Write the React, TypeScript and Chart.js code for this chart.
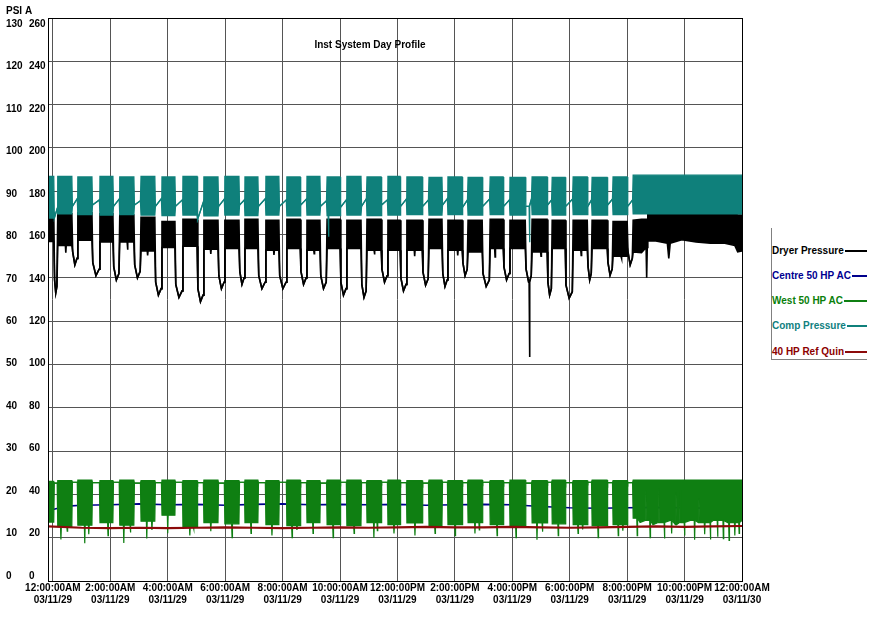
import { useEffect, useRef } from 'react';
import { Chart, registerables } from 'chart.js';

Chart.register(...registerables);

const FONT = '"Liberation Sans", Arial, Helvetica, sans-serif';

// ---- axis labels ----
const xTickHours = [0, 2, 4, 6, 8, 10, 12, 14, 16, 18, 20, 22, 24];
const xTimeLabels = ['12:00:00AM', '2:00:00AM', '4:00:00AM', '6:00:00AM', '8:00:00AM', '10:00:00AM', '12:00:00PM', '2:00:00PM', '4:00:00PM', '6:00:00PM', '8:00:00PM', '10:00:00PM', '12:00:00AM'];
const xDateLabels = ['03/11/29', '03/11/29', '03/11/29', '03/11/29', '03/11/29', '03/11/29', '03/11/29', '03/11/29', '03/11/29', '03/11/29', '03/11/29', '03/11/29', '03/11/30'];
const psiTicks = [0, 10, 20, 30, 40, 50, 60, 70, 80, 90, 100, 110, 120, 130];
const altTicks = [0, 20, 40, 60, 80, 100, 120, 140, 160, 180, 200, 220, 240, 260];

// ---- series ----
const seriesNames = ['Dryer Pressure', 'Centre 50 HP AC', 'West 50 HP AC', 'Comp Pressure', '40 HP Ref Quin'];
const seriesColors = ['#000000', '#00008c', '#0f7f12', '#0f807b', '#8c0a0a'];
const legendTextColors = ['#000000', '#000090', '#0a800a', '#108080', '#8c0000'];

// Compressor load cycles, hours after midnight (last one runs continuously)
const cycleOn = [-0.17, 0.17, 0.87, 1.64, 2.33, 3.07, 3.8, 4.53, 5.26, 5.99, 6.69, 7.42, 8.15, 8.85, 9.55, 10.24, 10.94, 11.67, 12.33, 13.1, 13.76, 14.46, 15.23, 15.92, 16.69, 17.39, 18.12, 18.78, 19.51, 20.21];
const cycleOff = [0.03, 0.66, 1.36, 2.09, 2.82, 3.55, 4.25, 5.02, 5.75, 6.48, 7.14, 7.87, 8.61, 9.3, 10.0, 10.73, 11.43, 12.09, 12.86, 13.55, 14.25, 14.95, 15.68, 16.45, 17.21, 17.84, 18.61, 19.3, 20.0, 24.0];

// Comp Pressure: band while loaded, single trace between loads
const compTop = [93.4, 93.4, 93.3, 93.4, 93.3, 93.4, 93.3, 93.4, 93.3, 93.4, 93.3, 93.4, 93.3, 93.4, 93.3, 93.4, 93.3, 93.4, 93.3, 93.2, 93.3, 93.2, 93.3, 93.2, 93.3, 93.2, 93.3, 93.2, 93.3, 93.7];
const compBottom = [83.8, 84.8, 84.6, 84.5, 84.6, 84.5, 84.4, 84.5, 84.3, 84.5, 84.4, 84.5, 84.3, 84.5, 84.4, 84.5, 84.4, 84.5, 84.6, 84.5, 84.6, 84.5, 84.6, 84.5, 84.6, 84.5, 84.6, 84.5, 84.6, 84.8];
const compGapStart = [83.8, 86.5, 86.8, 86.5, 86.8, 86.5, 86.5, 83.5, 86.5, 86.8, 86.5, 86.5, 86.8, 86.5, 86.3, 86.5, 86.8, 86.5, 86.5, 86.8, 86.3, 86.5, 86.5, 86.5, 86.8, 86.5, 86.5, 86.8, 86.5];
const compGapEnd = [86.0, 88.3, 88.0, 88.2, 87.8, 88.3, 88.0, 87.5, 88.2, 88.0, 88.3, 88.0, 88.2, 87.8, 88.0, 88.3, 88.0, 88.2, 88.0, 88.3, 88.0, 88.2, 88.0, 88.3, 88.0, 88.2, 88.0, 88.2, 88.0];
const compSpikes: [number, number][] = [[9.6, 79.5], [16.6, 78.2]];

// Dryer Pressure
const dryerTop = [85.0, 84.8, 85.0, 84.8, 84.5, 84.0, 83.0, 83.5, 83.3, 83.3, 83.5, 83.3, 83.5, 83.3, 83.5, 83.3, 83.5, 83.3, 83.3, 83.5, 83.3, 83.3, 83.5, 83.3, 83.5, 83.3, 83.3, 83.3, 83.0, 83.5];
const dryerBottom = [78.4, 77.5, 78.7, 78.3, 78.3, 76.2, 77.0, 77.3, 76.6, 76.8, 76.8, 76.4, 76.8, 76.4, 76.8, 76.8, 76.4, 76.4, 76.4, 76.8, 76.4, 76.0, 76.8, 76.8, 76.0, 76.8, 76.4, 76.8, 75.0, 76.0];
const dryerGapLow = [66.5, 73.0, 70.5, 69.5, 70.0, 66.0, 65.5, 64.5, 67.5, 68.5, 67.5, 67.5, 68.5, 67.5, 66.0, 65.5, 69.0, 67.0, 68.3, 68.0, 70.5, 68.0, 69.5, 69.0, 66.0, 65.3, 69.5, 70.6, 73.0];
const dryerSpikes: [number, number][] = [
  [16.6, 51.7], [0.45, 75.8], [2.6, 76.5], [3.3, 75.2], [5.5, 75.5], [7.7, 75.3], [9.1, 75.6],
  [11.2, 75.4], [12.6, 75.0], [14.1, 75.2], [15.4, 74.8], [17.0, 75.0], [18.4, 75.2], [19.8, 74.5],
];
const dryerTailHours = [20.21, 20.5, 20.66, 20.68, 20.7, 20.72, 21.0, 21.4, 21.45, 21.5, 21.9, 22.4, 22.9, 23.4, 23.75, 23.85, 24.0];
const dryerTailTop = [83.3, 83.5, 83.5, 83.5, 83.5, 85.2, 85.2, 85.0, 85.0, 85.0, 85.2, 85.0, 85.0, 85.0, 84.8, 84.5, 84.5];
const dryerTailBottom = [76.0, 75.8, 77.0, 70.0, 77.0, 78.5, 78.5, 78.0, 74.5, 78.0, 78.8, 78.3, 78.0, 78.0, 77.5, 76.0, 76.2];

// West 50 HP AC
const westTop = [23.0, 23.2, 23.3, 23.2, 23.3, 23.2, 23.3, 23.2, 23.3, 23.2, 23.3, 23.2, 23.3, 23.2, 23.3, 23.3, 23.2, 23.3, 23.2, 23.3, 23.2, 23.3, 23.2, 23.3, 23.2, 23.3, 23.2, 23.3, 23.2, 23.3];
const westBottom = [13.6, 12.6, 12.9, 13.5, 12.9, 13.8, 15.2, 12.6, 13.5, 13.2, 13.5, 13.0, 12.8, 13.5, 13.0, 12.8, 13.5, 13.0, 13.4, 12.8, 13.0, 13.5, 13.0, 12.8, 13.4, 13.2, 13.0, 12.8, 13.0, 14.0];
const westGap = [22.6, 22.8, 22.7, 22.8, 22.6, 22.7, 22.8, 22.7, 22.6, 22.8, 22.7, 22.8, 22.7, 22.6, 22.8, 22.7, 22.8, 22.7, 22.6, 22.8, 22.7, 22.8, 22.7, 22.6, 22.8, 22.7, 22.8, 22.7, 22.7];
const westSpikes: [number, number][] = [
  [0.28, 9.6], [0.5, 11.5], [1.11, 8.7], [1.25, 10.8], [1.92, 10.5], [2.47, 8.8], [2.7, 11.2], [3.27, 9.8],
  [3.45, 11.8], [4.0, 11.0], [4.77, 10.5], [4.9, 12.0], [5.5, 11.5], [6.24, 10.0], [6.9, 11.0], [7.63, 10.5],
  [8.33, 10.0], [8.5, 11.8], [9.06, 11.0], [9.76, 10.0], [10.49, 11.0], [11.18, 10.0], [11.3, 11.6],
  [11.88, 11.0], [12.61, 10.5], [13.31, 11.0], [14.01, 10.5], [14.7, 11.0], [14.85, 11.8], [15.47, 10.5],
  [16.13, 10.0], [16.86, 9.5], [17.05, 11.4], [17.6, 10.5], [18.29, 11.0], [18.45, 11.9], [18.99, 10.0],
  [19.69, 10.5], [19.85, 11.6],
  [20.35, 10.5], [20.8, 10.0], [21.3, 9.8], [21.55, 11.0], [22.0, 10.5], [22.35, 9.5], [22.7, 10.8],
  [22.9, 9.6], [23.15, 10.2], [23.35, 9.8], [23.55, 9.4], [23.75, 10.5], [23.9, 11.0],
];
const westTailHours = [20.21, 20.45, 20.63, 20.65, 20.67, 20.9, 21.08, 21.1, 21.12, 21.5, 21.68, 21.7, 21.72, 21.83, 21.85, 21.87, 22.2, 22.48, 22.5, 22.52, 23.0, 23.5, 24.0];
const westTailBottom = [14.5, 13.5, 14.0, 21.0, 14.0, 13.0, 13.5, 21.5, 13.5, 14.0, 13.0, 20.5, 13.0, 13.5, 21.0, 13.5, 14.0, 13.5, 19.0, 13.5, 14.0, 13.5, 14.0];

// Centre 50 HP AC
const centreHours = [-0.17, 0, 0.5, 1, 2, 3, 4, 5, 6, 7, 8, 9, 10, 11, 12, 13, 14, 15, 16, 17, 18, 19, 20, 21, 22, 23, 24];
const centreValues = [16.3, 16.5, 17.3, 17.5, 17.6, 17.8, 17.6, 17.7, 17.5, 17.7, 17.8, 17.6, 17.7, 17.6, 17.7, 17.5, 17.6, 17.7, 17.6, 17.2, 16.9, 16.8, 16.9, 17.0, 16.9, 16.8, 16.8];

// 40 HP Ref Quin
const quinHours = [-0.17, 1, 2, 3, 4, 5, 6, 7, 8, 9, 10, 11, 12, 13, 14, 15, 16, 17, 18, 19, 20, 21, 22, 23, 24];
const quinValues = [12.6, 12.3, 12.2, 12.3, 12.2, 12.3, 12.4, 12.3, 12.2, 12.3, 12.4, 12.3, 12.4, 12.5, 12.4, 12.4, 12.5, 12.4, 12.3, 12.4, 12.5, 12.6, 12.5, 12.6, 12.7];

type EnvPt = { x: number; hi: number; lo: number };
type Tail = { hours: number[]; top?: number[]; bottom: number[] };

// Builds upper/lower envelope of a cycling trace: a band while loaded and a single trace in between.
function buildEnvelope(
  top: number[],
  bottom: number[],
  gapPoints: (i: number, off: number, next: number) => [number, number][],
  spikes: [number, number][],
  tail?: Tail,
): EnvPt[] {
  const pts: EnvPt[] = [];
  const n = cycleOn.length;
  for (let i = 0; i < n; i++) {
    const on = cycleOn[i];
    const off = cycleOff[i];
    if (tail && i === n - 1) {
      tail.hours.forEach((h, k) => pts.push({ x: h, hi: tail.top ? tail.top[k] : top[i], lo: tail.bottom[k] }));
    } else {
      pts.push({ x: on, hi: top[i], lo: bottom[i] }, { x: off, hi: top[i], lo: bottom[i] });
    }
    if (i < n - 1) {
      for (const [x, v] of gapPoints(i, off, cycleOn[i + 1])) pts.push({ x, hi: v, lo: v });
    }
  }
  const half = 0.014;
  for (const [t, v] of spikes) {
    const k = pts.findIndex((p, j) => j < pts.length - 1 && p.x <= t && pts[j + 1].x > t);
    if (k < 0) continue;
    const b = pts[k];
    pts.splice(
      k + 1,
      0,
      { x: t - half, hi: b.hi, lo: b.lo },
      { x: t, hi: Math.max(b.hi, v), lo: Math.min(b.lo, v) },
      { x: t + half, hi: b.hi, lo: b.lo },
    );
  }
  return pts;
}

const compEnv = buildEnvelope(compTop, compBottom, (i, off, next) => [
  [off + 0.02, compGapStart[i]],
  [next - 0.02, compGapEnd[i]],
], compSpikes);

const dryerEnv = buildEnvelope(dryerTop, dryerBottom, (i, off, next) => [
  [off + 0.03, dryerGapLow[i] + 3],
  [(off + next) / 2, dryerGapLow[i]],
  [next - 0.03, dryerGapLow[i] + 1.5],
], dryerSpikes, { hours: dryerTailHours, top: dryerTailTop, bottom: dryerTailBottom });

const westEnv = buildEnvelope(westTop, westBottom, (i, off, next) => [
  [off + 0.02, westGap[i]],
  [next - 0.02, westGap[i]],
], westSpikes, { hours: westTailHours, bottom: westTailBottom });

function bandDatasets(env: EnvPt[], color: string, order: number, width: number) {
  const common = { borderColor: color, backgroundColor: color, borderWidth: width, pointRadius: 0, tension: 0, order, yAxisID: 'y' };
  return [
    { ...common, data: env.map((p) => ({ x: p.x, y: p.hi })), fill: false },
    { ...common, data: env.map((p) => ({ x: p.x, y: p.lo })), fill: '-1' },
  ];
}

const labelFont = { family: FONT, size: 10, weight: 'bold' as const, lineHeight: 1.2 };

const chartText = {
  id: 'chartText',
  afterDatasetsDraw(chart: any) {
    const { ctx, chartArea: a } = chart;
    ctx.save();
    ctx.strokeStyle = '#000';
    ctx.lineWidth = 1;
    ctx.strokeRect(Math.round(a.left) + 0.5, Math.round(a.top) + 0.5, Math.round(a.right - a.left), Math.round(a.bottom - a.top));
    ctx.fillStyle = '#000';
    ctx.font = `bold 10px ${FONT}`;
    ctx.textBaseline = 'middle';
    ctx.textAlign = 'center';
    ctx.fillText('Inst System Day Profile', a.left + 322, a.top + 27.5);
    ctx.textAlign = 'left';
    ctx.fillText('PSI A', 6, 11.5);
    ctx.restore();
  },
};

export default function App() {
  const canvasRef = useRef<HTMLCanvasElement>(null);

  useEffect(() => {
    const datasets: any[] = [
      {
        label: seriesNames[4], data: quinHours.map((h, i) => ({ x: h, y: quinValues[i] })),
        borderColor: seriesColors[4], borderWidth: 2.2, pointRadius: 0, tension: 0, fill: false, order: 0, yAxisID: 'y',
      },
      ...bandDatasets(compEnv, seriesColors[3], 1, 1.3),
      ...bandDatasets(westEnv, seriesColors[2], 2, 1.2),
      {
        label: seriesNames[1], data: centreHours.map((h, i) => ({ x: h, y: centreValues[i] })),
        borderColor: seriesColors[1], borderWidth: 1.6, pointRadius: 0, tension: 0, fill: false, order: 3, yAxisID: 'y',
      },
      ...bandDatasets(dryerEnv, seriesColors[0], 4, 1.6),
    ];

    const gridColor = '#555555';
    const chart = new Chart(canvasRef.current!, {
      type: 'line',
      data: { datasets },
      options: {
        responsive: false,
        animation: false,
        events: [],
        layout: { padding: { left: 6, top: 18, right: 133, bottom: 0 } },
        plugins: { legend: { display: false }, tooltip: { enabled: false }, title: { display: false } },
        scales: {
          x: {
            type: 'linear',
            min: -0.17,
            max: 24,
            afterBuildTicks: (s: any) => { s.ticks = xTickHours.map((v) => ({ value: v })); },
            afterFit: (s: any) => { s.height = 38; },
            ticks: {
              callback: (_v: any, i: number) => [xTimeLabels[i], xDateLabels[i]],
              font: labelFont, color: '#000', maxRotation: 0, minRotation: 0, autoSkip: false, padding: 1,
            },
            grid: { color: gridColor, lineWidth: 1, drawTicks: false },
            border: { display: false },
          },
          y: {
            type: 'linear',
            position: 'left',
            weight: 0,
            min: 0,
            max: 130,
            afterBuildTicks: (s: any) => { s.ticks = psiTicks.map((v) => ({ value: v })); },
            afterFit: (s: any) => { s.width = 0; },
            ticks: { display: false },
            grid: { color: gridColor, lineWidth: 1, drawTicks: false },
            border: { display: false },
          },
          yl: {
            type: 'linear',
            position: 'left',
            weight: 2,
            min: -1.18,
            max: 131.41,
            afterBuildTicks: (s: any) => { s.ticks = psiTicks.map((v) => ({ value: v })); },
            afterFit: (s: any) => { s.width = 23; },
            ticks: { font: labelFont, color: '#000', crossAlign: 'far', padding: 0 },
            grid: { display: false, drawTicks: false },
            border: { display: false },
          },
          yr: {
            type: 'linear',
            position: 'left',
            weight: 1,
            min: -2.36,
            max: 262.82,
            afterBuildTicks: (s: any) => { s.ticks = altTicks.map((v) => ({ value: v })); },
            afterFit: (s: any) => { s.width = 19; },
            ticks: { font: labelFont, color: '#000', crossAlign: 'far', padding: 0 },
            grid: { display: false, drawTicks: false },
            border: { display: false },
          },
        },
      } as any,
      plugins: [chartText],
    });
    return () => chart.destroy();
  }, []);

  const rowCenters = [22.7, 47.9, 73.2, 98.4, 123.7];

  return (
    <div style={{ position: 'absolute', left: 0, top: 0, width: 875, height: 619, background: '#fff' }}>
      <canvas ref={canvasRef} width={875} height={619} style={{ display: 'block', width: 875, height: 619 }} />
      <div
        style={{
          position: 'absolute', left: 771, top: 228, width: 96, height: 132,
          border: '1px solid #808080', borderRight: 'none', borderTop: 'none', boxSizing: 'border-box', background: '#fff',
        }}
      >
        {seriesNames.map((name, i) => (
          <div
            key={name}
            style={{
              position: 'absolute', left: 0, right: 0, top: rowCenters[i] - 7, height: 14,
              display: 'flex', alignItems: 'center',
            }}
          >
            <span style={{ font: `bold 10px ${FONT}`, color: legendTextColors[i], whiteSpace: 'nowrap', lineHeight: '14px' }}>{name}</span>
            <span style={{ flex: 1, height: 2, background: seriesColors[i], marginLeft: 1 }} />
          </div>
        ))}
      </div>
    </div>
  );
}
